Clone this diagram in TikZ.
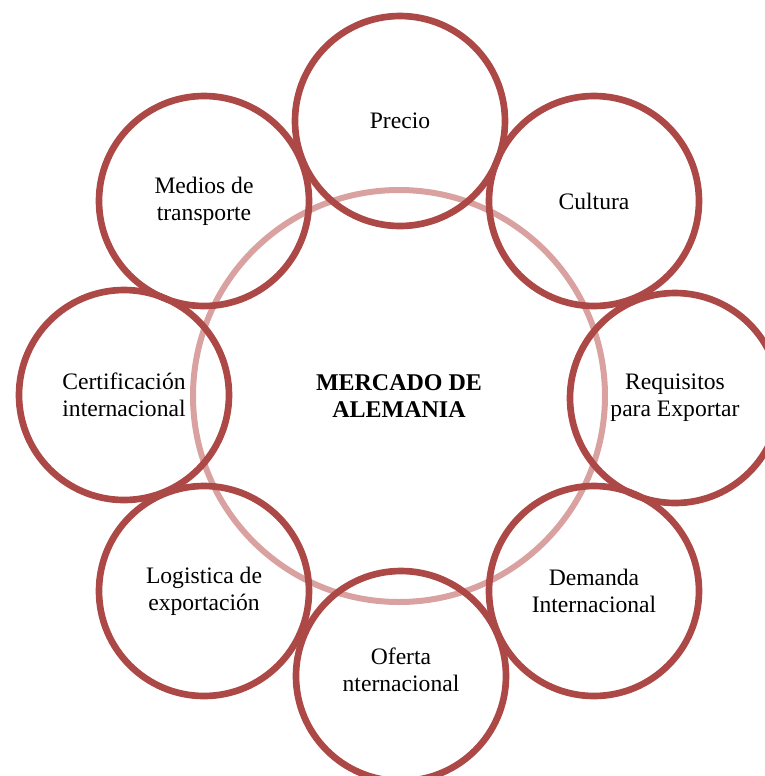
\documentclass[tikz,border=0pt]{standalone}
\usepackage{fontspec}
\setmainfont{Liberation Serif}
\definecolor{ringdark}{RGB}{172,72,70}
\definecolor{ringlight}{RGB}{217,162,160}
\begin{document}
\begin{tikzpicture}[x=0.75pt,y=-0.75pt,
  outer/.style={circle,draw=ringdark,line width=5pt,minimum size=157.5pt,inner sep=0pt,
    align=center,font=\fontsize{17.7}{20.3}\selectfont},
  hub/.style={circle,draw=ringlight,line width=4.5pt,minimum size=309pt,inner sep=0pt,
    align=center,font=\fontsize{18}{20.3}\selectfont\bfseries}]
\useasboundingbox (0,0) rectangle (765,776);
\clip (0,0) rectangle (765,776);
\node[hub] (hub) at (399,396) {MERCADO DE\\ALEMANIA};
\node[outer] (precio) at (400,121) {Precio};
\node[outer] (cultura) at (594,201) {Cultura};
\node[outer] (req) at (675,398) {Requisitos\\para Exportar};
\node[outer] (dem) at (594,591) {Demanda\\Internacional};
\node[outer] (ofe) at (401,676) {};
\node[font=\fontsize{17.7}{20.3}\selectfont,align=center] (ofet) at (401,670) {Oferta\\nternacional};
\node[outer] (log) at (204,591) {Logistica de\\exportación};
\node[outer] (cert) at (124,395) {Certificación\\internacional};
\node[outer] (med) at (204,201) {Medios de\\transporte};
\end{tikzpicture}
\end{document}
